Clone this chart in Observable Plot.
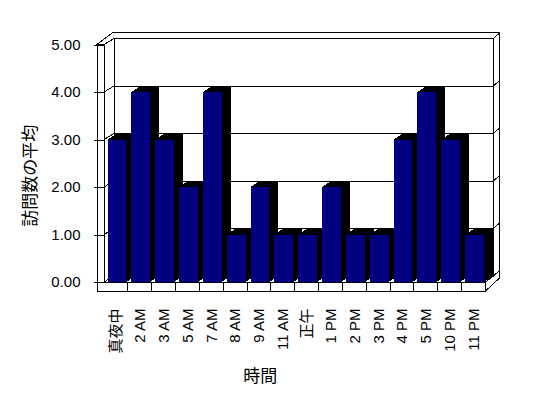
<!DOCTYPE html>
<html><head><meta charset="utf-8">
<script src="https://cdn.jsdelivr.net/npm/d3@7"></script>
<script src="https://cdn.jsdelivr.net/npm/@observablehq/plot@0.6"></script>
<style>body{margin:0;background:#fff;}</style>
</head><body><div id="chart"></div>
<script>
// ---- data ----
const hours = ["真夜中","2 AM","3 AM","5 AM","7 AM","8 AM","9 AM","11 AM","正午","1 PM","2 PM","3 PM","4 PM","5 PM","10 PM","11 PM"];
const visits = [3,4,3,2,4,1,2,1,1,2,1,1,3,4,3,1];
const yTicks = [0,1,2,3,4,5];
const yTitle = "訪問数の平均";
const xTitle = "時間";

const data = hours.map((h, i) => ({hour: h, visits: visits[i]}));

// ---- 3D styling constants (pixels) ----
const DEPTH = [10, -6];
const BAR_DEPTH = [9, -6];
const INSET_L = 3.5, INSET_R = 1.5;
const WALL = 7, FLOOR = 9;

function poly(g, pts, fill) {
  g.append("path").attr("d", "M" + pts.map(p => p.join(",")).join("L") + "Z").attr("fill", fill);
}
function seg(g, a, b) {
  g.append("line").attr("x1", a[0]).attr("y1", a[1]).attr("x2", b[0]).attr("y2", b[1]);
}
function frameBox({x, y}) {
  const bw = x.bandwidth ? x.bandwidth() : x(hours[1]) - x(hours[0]);
  const L = x(hours[0]), R = x(hours[hours.length - 1]) + bw;
  const T = y(yTicks[yTicks.length - 1]), B = y(0);
  return {bw, L, R, T, B};
}

function walls(index, scales) {
  const {y} = scales;
  const {L, R, T, B} = frameBox(scales);
  const [dx, dy] = DEPTH;
  const g = d3.create("svg:g").attr("stroke", "#000").attr("fill", "#fff").attr("shape-rendering", "crispEdges");
  poly(g, [[L - WALL, T], [L + 9, T - 12], [R + 14, T - 12], [R + 8, T + dy], [L + dx, T + dy], [L, T]], "#fff");
  poly(g, [[R + 8, T + dy], [R + 14, T - 12], [R + 14, B - 4], [R, B + FLOOR], [R, B], [R + 8, B + dy]], "#fff");
  g.append("rect").attr("x", L + dx).attr("y", T + dy).attr("width", R + 8 - (L + dx)).attr("height", B - T);
  for (const v of yTicks) {
    const yy = y(v);
    seg(g, [L + dx, yy + dy], [R + 8, yy + dy]);
    seg(g, [L, yy], [L + dx, yy + dy]);
    seg(g, [R + 8, yy + dy], [R + 14, yy + dy - 5.5]);
  }
  return g.node();
}

function barSides(index, scales) {
  const {x, y} = scales;
  const {bw} = frameBox(scales);
  const [dx, dy] = BAR_DEPTH;
  const g = d3.create("svg:g").attr("fill", "#000").attr("shape-rendering", "crispEdges");
  const yb = y(0);
  for (const d of data) {
    const x1 = x(d.hour) + INSET_L, x2 = x(d.hour) + bw - INSET_R, yt = y(d.visits);
    poly(g, [[x1, yt], [x1 + dx, yt + dy], [x2 + dx, yt + dy], [x2 + dx, yb + dy], [x2, yb], [x2, yt]], "#000");
  }
  return g.node();
}

function fronts(index, scales) {
  const {x} = scales;
  const {bw, L, R, T, B} = frameBox(scales);
  const g = d3.create("svg:g").attr("stroke", "#000").attr("fill", "#fff").attr("shape-rendering", "crispEdges");
  g.append("rect").attr("x", L - WALL).attr("y", T).attr("width", WALL).attr("height", B - T);
  g.append("rect").attr("x", L - WALL).attr("y", B).attr("width", R - (L - WALL)).attr("height", FLOOR);
  hours.slice(0, -1).forEach(h => seg(g, [x(h) + bw, B], [x(h) + bw, B + FLOOR]));
  return g.node();
}

const chart = Plot.plot({
  width: 548,
  height: 398,
  marginLeft: 104,
  marginRight: 62.5,
  marginTop: 44.5,
  marginBottom: 116,
  style: {fontFamily: '"Liberation Sans","Noto Sans CJK JP",sans-serif', fontSize: "15px", background: "#fff"},
  x: {domain: hours, padding: 0, round: false},
  y: {domain: [0, 5]},
  marks: [
    walls,
    barSides,
    Plot.barY(data, {x: "hour", y: "visits", fill: "#000080", insetLeft: INSET_L, insetRight: INSET_R, shapeRendering: "crispEdges"}),
    fronts,
    Plot.axisY(yTicks, {tickFormat: d3.format(".2f"), tickSize: 10, tickPadding: 14, fontSize: 15, label: null, stroke: "#000", shapeRendering: "crispEdges"}),
    Plot.axisX({tickSize: 0, tickRotate: -90, tickPadding: 26, fontSize: 15, label: null}),
    Plot.text([yTitle], {frameAnchor: "left", rotate: -90, textAnchor: "middle", lineAnchor: "middle", dx: -74, dy: 12, fontSize: 17}),
    Plot.text([xTitle], {frameAnchor: "bottom", textAnchor: "middle", lineAnchor: "middle", dx: -35, dy: 94, fontSize: 17})
  ]
});
document.getElementById("chart").appendChild(chart);
</script>
</body></html>
